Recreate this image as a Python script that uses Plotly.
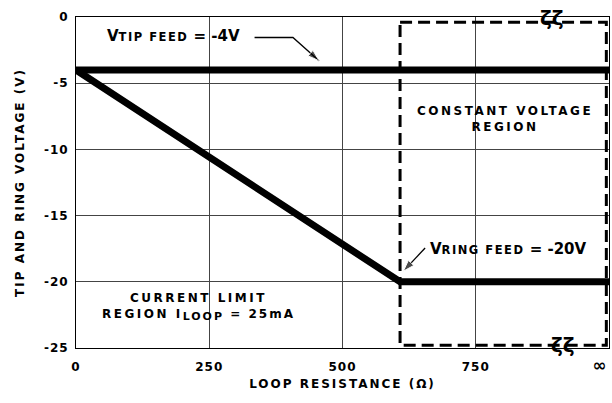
import plotly.graph_objects as go

# Data
x_ticks = [0, 250, 500, 750, 1000]
x_tick_labels = ["0", "250", "500", "750", "∞"]
y_ticks = [0, -5, -10, -15, -20, -25]
y_tick_labels = ["0", "-5", "-10", "-15", "-20", "-25"]

tip_x = [0, 1000]
tip_y = [-4, -4]

ring_x = [0, 608, 1000]
ring_y = [-4, -20, -20]

FONT = "DejaVu Sans, Verdana, sans-serif"

def sp(t, ls=2):
    if t == "∞":
        return "<b><span style='font-size:17px'>∞</span></b>" + "&nbsp;" * 5
    return "<b><span style='letter-spacing:%spx'>%s</span></b>" % (ls, t)

fig = go.Figure()
fig.add_trace(go.Scatter(x=tip_x, y=tip_y, mode="lines",
                         line=dict(color="black", width=7), showlegend=False))
fig.add_trace(go.Scatter(x=ring_x, y=ring_y, mode="lines",
                         line=dict(color="black", width=7), showlegend=False))

# leader arrows (lines ending in an arrow marker)
fig.add_trace(go.Scatter(x=[335, 407, 456], y=[-1.55, -1.55, -3.3], mode="lines+markers",
                         line=dict(color="black", width=1.3),
                         marker=dict(symbol=["circle", "circle", "arrow"], size=[0, 0, 12],
                                     angleref="previous", color="black"),
                         showlegend=False, hoverinfo="skip"))
fig.add_trace(go.Scatter(x=[655, 614], y=[-17.45, -19.2], mode="lines+markers",
                         line=dict(color="black", width=1.3),
                         marker=dict(symbol=["circle", "arrow"], size=[0, 12],
                                     angleref="previous", color="black"),
                         showlegend=False, hoverinfo="skip"))

# constant voltage region (dashed box)
fig.add_shape(type="rect", x0=608, x1=995, y0=-0.4, y1=-24.8,
              line=dict(color="black", width=3, dash="12px,6px"), layer="above")

ann = []
def txt(x, y, t, size=12, **kw):
    d = dict(x=x, y=y, xref="x", yref="y", text=t, showarrow=False,
             font=dict(family=FONT, size=size, color="black"))
    d.update(kw)
    ann.append(d)

txt(183, -1.45,
    "<b>V<span style='font-size:11.5px;letter-spacing:1.5px'>TIP FEED</span> = -4V</b>", size=15)
txt(811, -17.5,
    "<b>V<span style='font-size:11.5px;letter-spacing:1.5px'>RING FEED</span> = -20V</b>", size=15)

txt(805, -7.7, sp("CONSTANT VOLTAGE", 2.5) + "<br>" + sp("REGION", 2.5), size=12)
txt(230, -21.9,
    sp("CURRENT LIMIT", 2.5) + "<br>" + sp("REGION I", 2.5)
    + "<sub><b><span style='font-size:11px;letter-spacing:2px'>LOOP</span></b></sub>"
    + sp(" = 25mA", 2), size=12)

# axis break marks
txt(893, -0.1, "<b>ζζ</b>", size=20)
txt(914, -24.8, "<b>ζζ</b>", size=20)

fig.update_layout(
    width=612, height=403,
    margin=dict(l=76, r=3, t=17, b=55),
    paper_bgcolor="white", plot_bgcolor="white",
    annotations=ann,
    font=dict(family=FONT, size=12, color="black"),
    xaxis=dict(range=[0, 1000], tickvals=x_ticks,
               ticktext=[sp(t, 1) for t in x_tick_labels],
               showgrid=True, gridcolor="#444", gridwidth=1,
               showline=True, linecolor="black", linewidth=1, mirror=True,
               ticks="", zeroline=False, ticklabelstandoff=8,
               ticklabeloverflow="allow", automargin=False,
               tickfont=dict(family=FONT, size=12, color="black"),
               title=dict(text=sp("LOOP RESISTANCE (Ω)", 2), standoff=5,
                          font=dict(family=FONT, size=12, color="black"))),
    yaxis=dict(range=[-25, 0], tickvals=y_ticks,
               ticktext=[sp(t, 1) for t in y_tick_labels],
               showgrid=True, gridcolor="#444", gridwidth=1,
               showline=True, linecolor="black", linewidth=1, mirror=True,
               ticks="", zeroline=False, ticklabelstandoff=4,
               ticklabeloverflow="allow", automargin=False,
               tickfont=dict(family=FONT, size=12, color="black"),
               title=dict(text=sp("TIP AND RING VOLTAGE (V)", 2), standoff=16,
                          font=dict(family=FONT, size=12, color="black"))),
)

fig.write_html("out.html", config={"displayModeBar": False},
               post_script="document.body.style.margin='0';"
                           "document.documentElement.style.overflow='hidden';")
